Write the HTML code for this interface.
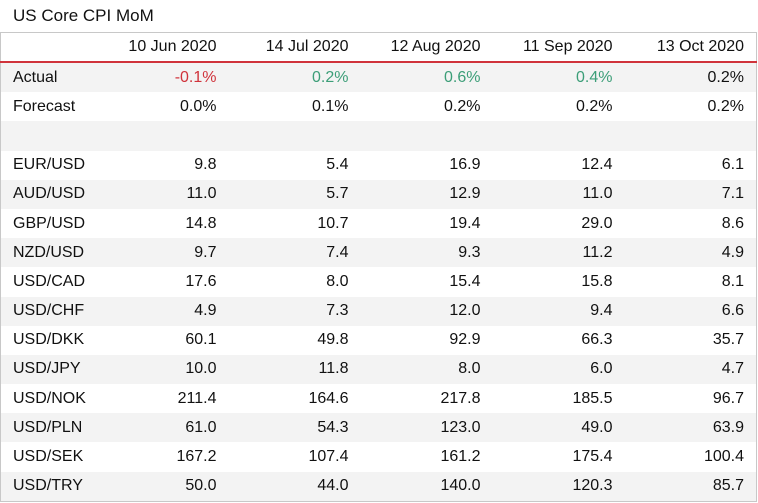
<!DOCTYPE html>
<html><head><style>
body{margin:0;background:#fff;width:758px;height:503px;overflow:hidden;font-family:"Liberation Sans",sans-serif;color:#111}
.t{position:absolute;left:13px;top:6px;font-size:17px}
table{position:absolute;left:0;top:32px;width:756px;table-layout:fixed;border-collapse:collapse;border:1px solid #c8c8c8;font-size:16px}
td{height:29.2px;padding:0;text-align:right;padding-right:12px;white-space:nowrap}
td:first-child{text-align:left;padding-left:12px;padding-right:0}
tr.h td{height:28px;border-bottom:2px solid #d0333b}
tr:nth-child(even) td{background:#f3f3f3}
.r{color:#d0333b}.g{color:#3c9e78}
</style></head><body>
<div class="t">US Core CPI MoM</div>
<table>
<colgroup><col style="width:96px"><col style="width:132px"><col style="width:132px"><col style="width:132px"><col style="width:132px"><col style="width:132px"></colgroup>
<tr class="h"><td></td><td>10 Jun 2020</td><td>14 Jul 2020</td><td>12 Aug 2020</td><td>11 Sep 2020</td><td>13 Oct 2020</td></tr>
<tr><td>Actual</td><td class="r">-0.1%</td><td class="g">0.2%</td><td class="g">0.6%</td><td class="g">0.4%</td><td>0.2%</td></tr>
<tr><td>Forecast</td><td>0.0%</td><td>0.1%</td><td>0.2%</td><td>0.2%</td><td>0.2%</td></tr>
<tr><td>&nbsp;</td><td></td><td></td><td></td><td></td><td></td></tr>
<tr><td>EUR/USD</td><td>9.8</td><td>5.4</td><td>16.9</td><td>12.4</td><td>6.1</td></tr>
<tr><td>AUD/USD</td><td>11.0</td><td>5.7</td><td>12.9</td><td>11.0</td><td>7.1</td></tr>
<tr><td>GBP/USD</td><td>14.8</td><td>10.7</td><td>19.4</td><td>29.0</td><td>8.6</td></tr>
<tr><td>NZD/USD</td><td>9.7</td><td>7.4</td><td>9.3</td><td>11.2</td><td>4.9</td></tr>
<tr><td>USD/CAD</td><td>17.6</td><td>8.0</td><td>15.4</td><td>15.8</td><td>8.1</td></tr>
<tr><td>USD/CHF</td><td>4.9</td><td>7.3</td><td>12.0</td><td>9.4</td><td>6.6</td></tr>
<tr><td>USD/DKK</td><td>60.1</td><td>49.8</td><td>92.9</td><td>66.3</td><td>35.7</td></tr>
<tr><td>USD/JPY</td><td>10.0</td><td>11.8</td><td>8.0</td><td>6.0</td><td>4.7</td></tr>
<tr><td>USD/NOK</td><td>211.4</td><td>164.6</td><td>217.8</td><td>185.5</td><td>96.7</td></tr>
<tr><td>USD/PLN</td><td>61.0</td><td>54.3</td><td>123.0</td><td>49.0</td><td>63.9</td></tr>
<tr><td>USD/SEK</td><td>167.2</td><td>107.4</td><td>161.2</td><td>175.4</td><td>100.4</td></tr>
<tr><td>USD/TRY</td><td>50.0</td><td>44.0</td><td>140.0</td><td>120.3</td><td>85.7</td></tr>
</table>
</body></html>
